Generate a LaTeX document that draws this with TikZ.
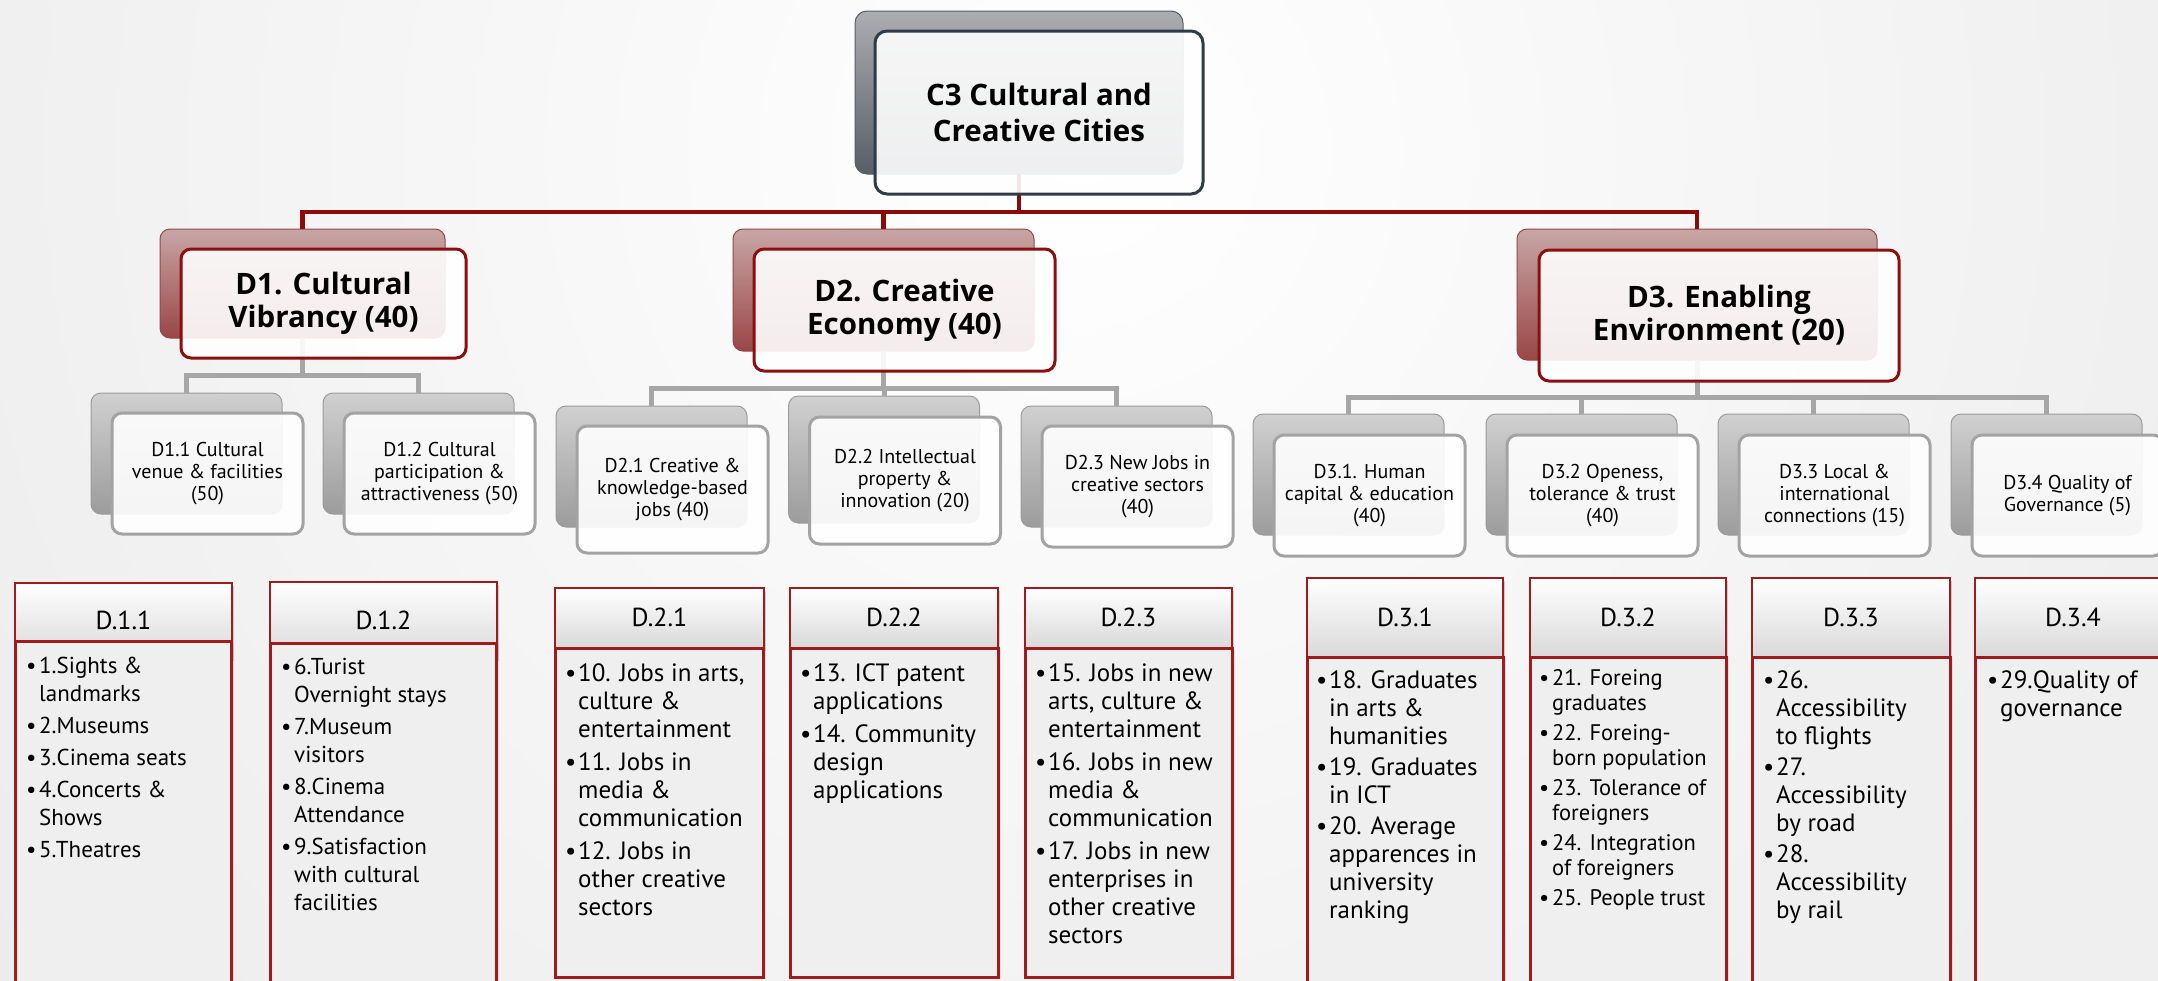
\documentclass[tikz,border=0pt]{standalone}
\usepackage{fontspec}
\setmainfont{PT Sans}
\newfontfamily\titlefont{Open Sans}
\usetikzlibrary{shadows}
\definecolor{bgedge}{HTML}{E3E3E3}
\definecolor{darkred}{HTML}{8C0A0A}
\definecolor{linegray}{HTML}{A6A6A6}
\definecolor{c3top}{HTML}{ACADB1}
\definecolor{c3bot}{HTML}{585D66}
\definecolor{c3border}{HTML}{2E3B4A}
\definecolor{dtop}{HTML}{C8A6A6}
\definecolor{dbot}{HTML}{9A4646}
\definecolor{dborder}{HTML}{8E0E0E}
\definecolor{ctop}{HTML}{D0D0D0}
\definecolor{cbot}{HTML}{9C9C9C}
\definecolor{cborder}{HTML}{A3A3A3}
\definecolor{bodyfill}{HTML}{EFEFEF}
\definecolor{boxred}{HTML}{A01B1B}
\definecolor{hdrbot}{HTML}{D9D9D9}
\newcommand\bu{\makebox[13pt][l]{\textbullet}}
\begin{document}
\begin{tikzpicture}[x=1pt,y=-1pt,
  box/.style={anchor=north west, inner sep=0pt, outer sep=0pt},
  c3back/.style={box, rounded corners=12pt, top color=c3top, bottom color=c3bot, draw=c3bot, line width=1pt},
  c3front/.style={box, rounded corners=12pt, fill=white, fill opacity=0.9, text opacity=1, draw=c3border, draw opacity=1, line width=3pt, align=center, font=\titlefont\bfseries\fontsize{29.5}{36}\selectfont},
  dback/.style={box, rounded corners=10pt, top color=dtop, bottom color=dbot, draw=dbot, line width=1pt},
  dfront/.style={box, rounded corners=10pt, fill=white, fill opacity=0.9, text opacity=1, draw=dborder, draw opacity=1, line width=3pt, align=center, font=\titlefont\bfseries\fontsize{29.5}{33}\selectfont},
  cback/.style={box, rounded corners=10pt, top color=ctop, bottom color=cbot, draw=cbot, line width=1pt, minimum width=191pt},
  cfront/.style={box, rounded corners=10pt, fill=white, fill opacity=0.9, text opacity=1, draw=cborder, draw opacity=1, line width=3pt, align=center, minimum width=191pt, font=\fontsize{20}{22}\selectfont},
  redline/.style={draw=darkred, line width=4.5pt},
  grayline/.style={draw=linegray, line width=5pt},
  hdr/.style={box, top color=white, bottom color=hdrbot, draw=boxred, line width=2pt, drop shadow={opacity=0.35, shadow xshift=2pt, shadow yshift=-3pt}},
  body/.style={box, fill=bodyfill, draw=boxred, line width=3pt, drop shadow={opacity=0.18, shadow xshift=3pt, shadow yshift=-2pt}},
  hdrtext/.style={inner sep=0pt, font=\fontsize{26}{28}\selectfont},
  list/.style={anchor=base west, inner sep=0pt, font=\fontsize{23}{28}\selectfont},
  listbig/.style={anchor=base west, inner sep=0pt, font=\fontsize{25}{28}\selectfont},
  listsmall/.style={anchor=base west, inner sep=0pt, font=\fontsize{22.5}{25.5}\selectfont}
]
\useasboundingbox (0,0) rectangle (2158,980);
% background
\fill[bgedge] (0,0) rectangle (2158,980);
\begin{scope}
\clip (0,0) rectangle (2158,980);
\shade[inner color=white, outer color=bgedge] (1080,150) circle (2000);
\end{scope}

% back boxes
\node[c3back, minimum width=328pt, minimum height=163pt] (c3b) at (855,11) {};
\node[dback, minimum width=285pt, minimum height=109pt] (d1b) at (160,229) {};
\node[dback, minimum width=301pt, minimum height=122pt] (d2b) at (733,229) {};
\node[dback, minimum width=360pt, minimum height=131pt] (d3b) at (1517,229) {};
\node[cback, minimum height=121pt] (c11b) at (91,393) {};
\node[cback, minimum height=121pt] (c12b) at (323,393) {};
\node[cback, minimum height=121pt] (c21b) at (556,406) {};
\node[cback, minimum height=127pt] (c22b) at (788.5,396) {};
\node[cback, minimum height=121pt] (c23b) at (1021,406) {};
\node[cback, minimum height=121pt] (c31b) at (1253,414) {};
\node[cback, minimum height=121pt] (c32b) at (1486,414) {};
\node[cback, minimum height=121pt] (c33b) at (1718,414) {};
\node[cback, minimum height=121pt] (c34b) at (1951,414) {};

% connectors
\coordinate (rbus) at (0,212);
\coordinate (g1) at (0,375);
\coordinate (g2) at (0,388);
\coordinate (g3) at (0,397);
\draw[redline] (d1b.north) |- (d3b.north |- rbus) -- (d3b.north);
\draw[redline] (c3b.south) -- (c3b.south |- rbus);
\draw[redline] (d2b.north) -- (d2b.north |- rbus);
\draw[grayline] (d1b.south) -- (d1b.south |- g1);
\draw[grayline] (c11b.north) |- (c12b.north |- g1) -- (c12b.north);
\draw[grayline] (d2b.south) -- (d2b.south |- g2);
\draw[grayline] (c21b.north) |- (c23b.north |- g2) -- (c23b.north);
\draw[grayline] (c22b.north) -- (c22b.north |- g2);
\draw[grayline] (d3b.south) -- (d3b.south |- g3);
\draw[grayline] (c31b.north) |- (c34b.north |- g3) -- (c34b.north);
\draw[grayline] (c32b.north) -- (c32b.north |- g3);
\draw[grayline] (c33b.north) -- (c33b.north |- g3);

% front boxes
\node[c3front, minimum width=328pt, minimum height=163pt] (c3) at (875,31) {C3 Cultural and\\Creative Cities};
\node[dfront, minimum width=285pt, minimum height=109pt] (d1) at (181,249) {D1. Cultural\\Vibrancy (40)};
\node[dfront, minimum width=301pt, minimum height=122pt] (d2) at (754,249) {D2. Creative\\Economy (40)};
\node[dfront, minimum width=360pt, minimum height=131pt] (d3) at (1539,250) {D3. Enabling\\Environment (20)};
\node[cfront, minimum height=121pt] (c11) at (112,413) {D1.1 Cultural\\venue \& facilities\\(50)};
\node[cfront, minimum height=121pt] (c12) at (344,413) {D1.2 Cultural\\participation \&\\attractiveness (50)};
\node[cfront, minimum height=127pt] (c21) at (577,426) {D2.1 Creative \&\\knowledge-based\\jobs (40)};
\node[cfront, minimum height=127pt] (c22) at (809.5,417) {D2.2 Intellectual\\property \&\\innovation (20)};
\node[cfront, minimum height=121pt] (c23) at (1042,426) {D2.3 New Jobs in\\creative sectors\\(40)};
\node[cfront, minimum height=121pt] (c31) at (1274,435) {D3.1. Human\\capital \& education\\(40)};
\node[cfront, minimum height=121pt] (c32) at (1507,435) {D3.2 Openess,\\tolerance \& trust\\(40)};
\node[cfront, minimum height=121pt] (c33) at (1739,435) {D3.3 Local \&\\international\\connections (15)};
\node[cfront, minimum height=121pt] (c34) at (1972,435) {D3.4 Quality of\\Governance (5)};

% lower boxes: headers
\node[hdr, minimum width=217pt, minimum height=75pt] (h11) at (15,583) {};
\node[hdr, minimum width=227pt, minimum height=76pt] (h12) at (270,582) {};
\node[hdr, minimum width=209pt, minimum height=60pt] (h21) at (555,588) {};
\node[hdr, minimum width=208pt, minimum height=60pt] (h22) at (790,588) {};
\node[hdr, minimum width=207pt, minimum height=60pt] (h23) at (1025,588) {};
\node[hdr, minimum width=196pt, minimum height=79pt] (h31) at (1307,578) {};
\node[hdr, minimum width=196pt, minimum height=79pt] (h32) at (1530,578) {};
\node[hdr, minimum width=198pt, minimum height=79pt] (h33) at (1752,578) {};
\node[hdr, minimum width=196pt, minimum height=79pt] (h34) at (1975,578) {};
% bodies
\node[body, minimum width=216pt, minimum height=360pt] (b11) at (15,641) {};
\node[body, minimum width=226pt, minimum height=360pt] (b12) at (270,643) {};
\node[body, minimum width=208pt, minimum height=329pt] (b21) at (555,648) {};
\node[body, minimum width=208pt, minimum height=329pt] (b22) at (790,648) {};
\node[body, minimum width=207pt, minimum height=329pt] (b23) at (1025,648) {};
\node[body, minimum width=196pt, minimum height=340pt] (b31) at (1307,657) {};
\node[body, minimum width=196pt, minimum height=340pt] (b32) at (1530,657) {};
\node[body, minimum width=198pt, minimum height=340pt] (b33) at (1752,657) {};
\node[body, minimum width=196pt, minimum height=340pt] (b34) at (1975,657) {};
% header texts
\node[hdrtext] (t11) at (123.5,620) {D.1.1};
\node[hdrtext] (t12) at (383.5,620) {D.1.2};
\node[hdrtext] (t21) at (659.5,617) {D.2.1};
\node[hdrtext] (t22) at (894,617) {D.2.2};
\node[hdrtext] (t23) at (1128.5,617) {D.2.3};
\node[hdrtext] (t31) at (1405,617) {D.3.1};
\node[hdrtext] (t32) at (1628,617) {D.3.2};
\node[hdrtext] (t33) at (1851,617) {D.3.3};
\node[hdrtext] (t34) at (2073,617) {D.3.4};
% lists
\node[list] (l11) at (26,673) {\begin{tabular}[t]{@{}l@{}l@{}}
\bu & 1.Sights \&\\ & landmarks\\[4pt]
\bu & 2.Museums\\[4pt]
\bu & 3.Cinema seats\\[4pt]
\bu & 4.Concerts \&\\ & Shows\\[4pt]
\bu & 5.Theatres
\end{tabular}};
\node[list] (l12) at (281,674) {\begin{tabular}[t]{@{}l@{}l@{}}
\bu & 6.Turist\\ & Overnight stays\\[4pt]
\bu & 7.Museum\\ & visitors\\[4pt]
\bu & 8.Cinema\\ & Attendance\\[4pt]
\bu & 9.Satisfaction\\ & with cultural\\ & facilities
\end{tabular}};
\node[listbig] (l21) at (565,681) {\begin{tabular}[t]{@{}l@{}l@{}}
\bu & 10. Jobs in arts,\\ & culture \&\\ & entertainment\\[5pt]
\bu & 11. Jobs in\\ & media \&\\ & communication\\[5pt]
\bu & 12. Jobs in\\ & other creative\\ & sectors
\end{tabular}};
\node[listbig] (l22) at (800,681) {\begin{tabular}[t]{@{}l@{}l@{}}
\bu & 13. ICT patent\\ & applications\\[5pt]
\bu & 14. Community\\ & design\\ & applications
\end{tabular}};
\node[listbig] (l23) at (1035,681) {\begin{tabular}[t]{@{}l@{}l@{}}
\bu & 15. Jobs in new\\ & arts, culture \&\\ & entertainment\\[5pt]
\bu & 16. Jobs in new\\ & media \&\\ & communication\\[5pt]
\bu & 17. Jobs in new\\ & enterprises in\\ & other creative\\ & sectors
\end{tabular}};
\node[listbig] (l31) at (1316,688) {\begin{tabular}[t]{@{}l@{}l@{}}
\bu & 18. Graduates\\ & in arts \&\\ & humanities\\[3pt]
\bu & 19. Graduates\\ & in ICT\\[3pt]
\bu & 20. Average\\ & apparences in\\ & university\\ & ranking
\end{tabular}};
\node[listsmall] (l32) at (1539,685) {\begin{tabular}[t]{@{}l@{}l@{}}
\bu & 21. Foreing\\ & graduates\\[4pt]
\bu & 22. Foreing-\\ & born population\\[4pt]
\bu & 23. Tolerance of\\ & foreigners\\[4pt]
\bu & 24. Integration\\ & of foreigners\\[4pt]
\bu & 25. People trust
\end{tabular}};
\node[listbig] (l33) at (1763,688) {\begin{tabular}[t]{@{}l@{}l@{}}
\bu & 26.\\ & Accessibility\\ & to flights\\[3pt]
\bu & 27.\\ & Accessibility\\ & by road\\[3pt]
\bu & 28.\\ & Accessibility\\ & by rail
\end{tabular}};
\node[listbig] (l34) at (1987,688) {\begin{tabular}[t]{@{}l@{}l@{}}
\bu & 29.Quality of\\ & governance
\end{tabular}};
\end{tikzpicture}
\end{document}
